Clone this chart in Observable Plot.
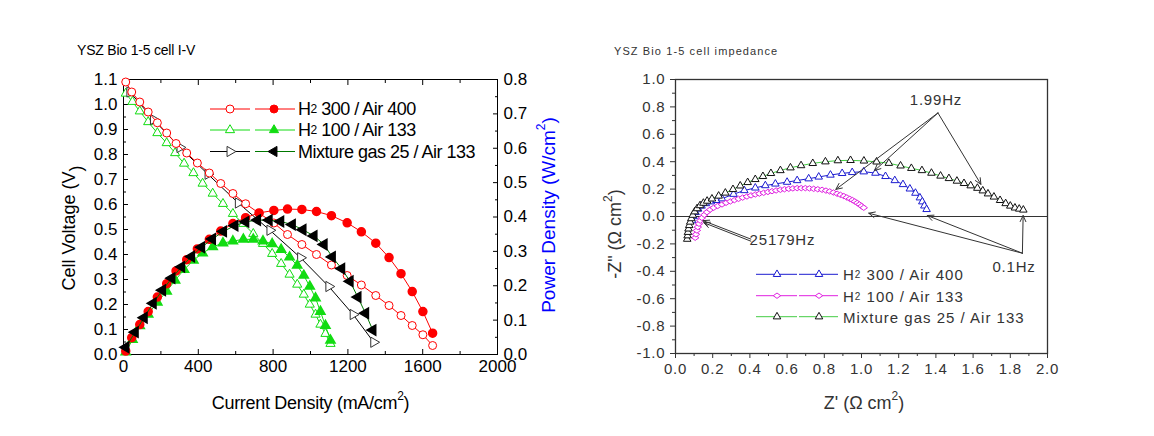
<!DOCTYPE html>
<html><head><meta charset="utf-8">
<script src="https://cdn.jsdelivr.net/npm/d3@7"></script>
<script src="https://cdn.jsdelivr.net/npm/@observablehq/plot@0.6"></script>
<style>
body{margin:0;background:#fff;}
#wrap{position:relative;width:1154px;height:436px;overflow:hidden;background:#fff;}
#wrap svg{position:absolute;top:0;}
</style></head><body><div id="wrap"></div>
<script>
// ---------- Left panel: I-V and power curves ----------
const currentH2_300 = [12,44,87,132,181,231,281,338,395,459,520,585,653,725,804,877,954,1032,1112,1196,1272,1349,1420,1484,1544,1601,1653];
const voltageH2_300 = [1.09,1.05,1.01,0.97,0.927,0.886,0.844,0.806,0.766,0.726,0.684,0.644,0.603,0.565,0.526,0.48,0.44,0.40,0.358,0.316,0.278,0.236,0.196,0.156,0.116,0.079,0.036];
const powerH2_300   = [0.010,0.049,0.087,0.125,0.167,0.206,0.243,0.276,0.307,0.335,0.359,0.381,0.398,0.412,0.419,0.423,0.422,0.416,0.404,0.383,0.357,0.324,0.282,0.235,0.183,0.125,0.062];

const currentH2_100 = [12,48,87,132,181,231,276,324,374,423,477,532,585,641,694,746,795,843,888,929,964,996,1027,1053,1080,1107];
const voltageH2_100 = [1.044,1.011,0.973,0.93,0.886,0.846,0.806,0.764,0.726,0.684,0.644,0.603,0.563,0.523,0.483,0.443,0.403,0.363,0.32,0.28,0.24,0.20,0.16,0.12,0.083,0.043];
const powerH2_100   = [0.007,0.043,0.083,0.117,0.152,0.184,0.216,0.247,0.274,0.295,0.313,0.324,0.330,0.335,0.335,0.330,0.322,0.305,0.283,0.259,0.230,0.198,0.164,0.125,0.084,0.041];

const currentMixV = [34,160,302,452,614,783,947,1098,1228,1338];
const voltageMix  = [1.05,0.94,0.828,0.721,0.606,0.497,0.387,0.272,0.16,0.049];
const currentMixP = [12,62,110,158,208,258,310,363,417,475,534,595,653,716,778,840,902,959,1018,1072,1116,1166,1211,1253,1294,1333];
const powerMix    = [0.021,0.065,0.107,0.149,0.187,0.222,0.255,0.285,0.312,0.336,0.358,0.375,0.386,0.391,0.391,0.387,0.378,0.363,0.345,0.32,0.284,0.25,0.213,0.167,0.12,0.071];

const currentTicks = [0,400,800,1200,1600,2000];
const currentMinor = [200,600,1000,1400,1800];
const voltageTicks = [0,0.1,0.2,0.3,0.4,0.5,0.6,0.7,0.8,0.9,1.0,1.1];
const voltageMinor = [0.05,0.15,0.25,0.35,0.45,0.55,0.65,0.75,0.85,0.95,1.05];
const powerTicks = [0,0.1,0.2,0.3,0.4,0.5,0.6,0.7,0.8];
const powerMinor = [0.05,0.15,0.25,0.35,0.45,0.55,0.65,0.75];

// ---------- Right panel: impedance ----------
const zReH2_300 = [0.09,0.097,0.108,0.122,0.14,0.163,0.19,0.22,0.25,0.312,0.37,0.429,0.483,0.537,0.6,0.654,0.716,0.77,0.833,0.896,0.95,1.012,1.075,1.129,1.179,1.223,1.26,1.29,1.314,1.327,1.338,1.35];
const zImH2_300 = [-0.03,0.0,0.03,0.055,0.077,0.095,0.108,0.118,0.13,0.163,0.19,0.209,0.226,0.238,0.251,0.263,0.276,0.289,0.303,0.315,0.322,0.327,0.317,0.293,0.263,0.234,0.202,0.171,0.137,0.108,0.078,0.052];

const zReH2_100 = [0.106,0.11,0.115,0.12,0.126,0.133,0.142,0.155,0.169,0.186,0.205,0.227,0.25,0.272,0.295,0.317,0.339,0.361,0.384,0.406,0.429,0.451,0.474,0.497,0.519,0.541,0.564,0.586,0.609,0.631,0.654,0.676,0.698,0.72,0.743,0.765,0.788,0.809,0.829,0.849,0.869,0.887,0.905,0.921,0.937,0.951,0.964,0.977,0.989,1.0,1.012];
const zImH2_100 = [-0.155,-0.13,-0.102,-0.077,-0.053,-0.03,-0.01,0.012,0.032,0.05,0.064,0.077,0.088,0.1,0.11,0.12,0.129,0.138,0.146,0.154,0.161,0.167,0.173,0.179,0.185,0.19,0.195,0.199,0.202,0.205,0.207,0.207,0.207,0.205,0.202,0.199,0.195,0.189,0.183,0.175,0.166,0.158,0.149,0.139,0.129,0.12,0.11,0.099,0.088,0.076,0.064];

const zReMix = [0.063,0.065,0.067,0.07,0.074,0.079,0.085,0.093,0.103,0.116,0.132,0.15,0.17,0.196,0.232,0.268,0.309,0.348,0.388,0.429,0.47,0.513,0.564,0.618,0.675,0.738,0.806,0.873,0.941,1.013,1.081,1.147,1.21,1.268,1.325,1.376,1.425,1.47,1.513,1.551,1.587,1.623,1.652,1.68,1.712,1.745,1.775,1.8,1.825,1.848,1.87];
const zImMix = [-0.165,-0.14,-0.115,-0.09,-0.065,-0.04,-0.015,0.01,0.035,0.058,0.08,0.098,0.113,0.129,0.15,0.172,0.198,0.224,0.249,0.271,0.293,0.315,0.336,0.356,0.372,0.388,0.4,0.408,0.41,0.406,0.399,0.389,0.37,0.352,0.336,0.317,0.296,0.278,0.259,0.242,0.225,0.207,0.188,0.166,0.143,0.118,0.095,0.077,0.063,0.055,0.048];

const zReTicks = [0,0.2,0.4,0.6,0.8,1.0,1.2,1.4,1.6,1.8,2.0];
const zReMinor = [0.1,0.3,0.5,0.7,0.9,1.1,1.3,1.5,1.7,1.9];
const zImTicks = [-1.0,-0.8,-0.6,-0.4,-0.2,0,0.2,0.4,0.6,0.8,1.0];
const zImMinor = [-0.9,-0.7,-0.5,-0.3,-0.1,0.1,0.3,0.5,0.7,0.9];

// frequency annotations (arrow from label point to data point)
const freqArrows = [
  {x1:1.411,y1:0.756,x2:0.862,y2:0.198},
  {x1:1.411,y1:0.756,x2:1.07,y2:0.335},
  {x1:1.411,y1:0.756,x2:1.642,y2:0.235},
  {x1:1.865,y1:-0.268,x2:1.039,y2:0.024},
  {x1:1.865,y1:-0.268,x2:1.354,y2:0.007},
  {x1:1.865,y1:-0.268,x2:1.869,y2:0.007},
  {x1:0.405,y1:-0.165,x2:0.148,y2:-0.03},
  {x1:0.405,y1:-0.18,x2:0.152,y2:-0.045}
];
const freqLabels = [
  {x:1.40,y:0.85,text:"1.99Hz"},
  {x:0.575,y:-0.17,text:"25179Hz"},
  {x:1.82,y:-0.373,text:"0.1Hz"}
];

// ---------- helpers ----------
const FONT = '"Liberation Sans", Arial, sans-serif';
const rows = (xs, ys) => xs.map((x, i) => ({x, y: ys[i]}));
const fmt1 = d => d.toFixed(1);
const blank = () => "";
const S3 = Math.sqrt(3);
const triRight = {draw(c, s){const k=Math.sqrt(s/(3*S3)); c.moveTo(2*k,0); c.lineTo(-k,-S3*k); c.lineTo(-k,S3*k); c.closePath();}};
const triLeft  = {draw(c, s){const k=Math.sqrt(s/(3*S3)); c.moveTo(-2*k,0); c.lineTo(k,-S3*k); c.lineTo(k,S3*k); c.closePath();}};
const wideDiamond = {draw(c, s){const r=Math.sqrt(s)*0.62; c.moveTo(-r,0); c.lineTo(0,-0.72*r); c.lineTo(r,0); c.lineTo(0,0.72*r); c.closePath();}};

const RED="#ff0000", GREEN="#12dc12", DKGREEN="#007800", BLUE="#1c1cd0", MAG="#e020e0", LGREEN="#44cc44";
const wrap = document.getElementById("wrap");

const leftDims = {width:600, height:436, marginTop:79, marginRight:103, marginBottom:82, marginLeft:123};
const leftStyle = {fontFamily: FONT, fontSize:"17px", color:"#000", background:"transparent", overflow:"visible"};

const pV = Plot.plot({
  ...leftDims,
  x:{domain:[0,2000]}, y:{domain:[0,1.1]},
  style: leftStyle,
  marks:[
    Plot.frame({stroke:"#000"}),
    Plot.axisY(voltageTicks,{anchor:"left", tickSize:-5, tickPadding:11, tickFormat:fmt1, label:null}),
    Plot.axisY(voltageMinor,{anchor:"left", tickSize:-3, tickFormat:blank, label:null}),
    Plot.axisX(currentTicks,{anchor:"bottom", tickSize:-5, tickPadding:10, tickFormat:d=>String(d), label:null}),
    Plot.axisX(currentMinor,{anchor:"bottom", tickSize:-3, tickFormat:blank, label:null}),
    Plot.axisX(currentTicks,{anchor:"top", tickSize:-5, tickFormat:blank, label:null}),
    Plot.axisX(currentMinor,{anchor:"top", tickSize:-3, tickFormat:blank, label:null}),
    Plot.line(rows(currentH2_100, voltageH2_100),{x:"x",y:"y",stroke:GREEN,strokeWidth:1}),
    Plot.dot(rows(currentH2_100, voltageH2_100),{x:"x",y:"y",symbol:"triangle",r:3.4,stroke:GREEN,fill:"#fff",strokeWidth:1}),
    Plot.line(rows(currentMixV, voltageMix),{x:"x",y:"y",stroke:"#000",strokeWidth:1}),
    Plot.dot(rows(currentMixV, voltageMix),{x:"x",y:"y",symbol:triRight,r:3.8,stroke:"#333",fill:"#fff",strokeWidth:1}),
    Plot.line(rows(currentH2_300, voltageH2_300),{x:"x",y:"y",stroke:RED,strokeWidth:1}),
    Plot.dot(rows(currentH2_300, voltageH2_300),{x:"x",y:"y",symbol:"circle",r:4,stroke:RED,fill:"#fff",strokeWidth:1})
  ]
});

const pP = Plot.plot({
  ...leftDims,
  x:{domain:[0,2000], axis:null}, y:{domain:[0,0.8]},
  style: leftStyle,
  marks:[
    Plot.axisY(powerTicks,{anchor:"right", tickSize:-5, tickPadding:11, tickFormat:fmt1, label:null}),
    Plot.axisY(powerMinor,{anchor:"right", tickSize:-3, tickFormat:blank, label:null}),
    Plot.line(rows(currentH2_100, powerH2_100),{x:"x",y:"y",stroke:GREEN,strokeWidth:1}),
    Plot.dot(rows(currentH2_100, powerH2_100),{x:"x",y:"y",symbol:"triangle",r:3.4,fill:GREEN,stroke:GREEN}),
    Plot.line(rows(currentH2_300, powerH2_300),{x:"x",y:"y",stroke:RED,strokeWidth:1}),
    Plot.dot(rows(currentH2_300, powerH2_300),{x:"x",y:"y",symbol:"circle",r:4,fill:RED,stroke:RED}),
    Plot.line(rows(currentMixP, powerMix),{x:"x",y:"y",stroke:DKGREEN,strokeWidth:1}),
    Plot.dot(rows(currentMixP, powerMix),{x:"x",y:"y",symbol:triLeft,r:3.8,fill:"#000",stroke:"#000"})
  ]
});

const pZ = Plot.plot({
  width:577, height:436, marginTop:79, marginRight:107, marginBottom:83, marginLeft:98,
  x:{domain:[0,2]}, y:{domain:[-1,1]},
  style:{fontFamily:FONT, fontSize:"15px", color:"#333", background:"transparent", overflow:"visible"},
  marks:[
    Plot.ruleY([0],{stroke:"#333",strokeWidth:1}),
    Plot.frame({stroke:"#333",strokeWidth:1.3}),
    Plot.axisY(zImTicks,{anchor:"left", tickSize:5, tickPadding:5, tickFormat:fmt1, label:null}),
    Plot.axisY(zImMinor,{anchor:"left", tickSize:3, tickFormat:blank, label:null}),
    Plot.axisX(zReTicks,{anchor:"bottom", tickSize:5, tickPadding:5, tickFormat:fmt1, label:null}),
    Plot.axisX(zReMinor,{anchor:"bottom", tickSize:3, tickFormat:blank, label:null}),
    Plot.line(rows(zReH2_300, zImH2_300),{x:"x",y:"y",stroke:BLUE,strokeWidth:1}),
    Plot.dot(rows(zReH2_300, zImH2_300),{x:"x",y:"y",symbol:"triangle",r:2.8,stroke:BLUE,fill:"#fff",strokeWidth:1}),
    Plot.line(rows(zReH2_100, zImH2_100),{x:"x",y:"y",stroke:MAG,strokeWidth:1}),
    Plot.dot(rows(zReH2_100, zImH2_100),{x:"x",y:"y",symbol:wideDiamond,r:3.4,stroke:MAG,fill:"#fff",strokeWidth:1}),
    Plot.line(rows(zReMix, zImMix),{x:"x",y:"y",stroke:LGREEN,strokeWidth:1}),
    Plot.dot(rows(zReMix, zImMix),{x:"x",y:"y",symbol:"triangle",r:2.8,stroke:"#111",fill:"#fff",strokeWidth:1}),
    Plot.arrow(freqArrows,{x1:"x1",y1:"y1",x2:"x2",y2:"y2",stroke:"#333",strokeWidth:1,headLength:10,headAngle:50}),
    Plot.text(freqLabels,{x:"x",y:"y",text:"text",fill:"#333",fontSize:15})
  ]
});
pZ.querySelectorAll("text").forEach(t => t.style.letterSpacing = "0.8px");

pV.style.left = "0px"; pP.style.left = "0px"; pZ.style.left = "577px";
wrap.append(pV, pP, pZ);

// ---------- overlay: titles, axis labels, legends ----------
const ov = d3.create("svg").attr("width",1154).attr("height",436)
  .style("left","0px").style("font-family",FONT);

function txt(x, y, opts){
  const t = ov.append("text").attr("x",x).attr("y",y)
    .attr("font-size",opts.size).attr("fill",opts.fill||"#000")
    .attr("text-anchor",opts.anchor||"start")
    .style("letter-spacing",(opts.ls||0)+"px");
  if (opts.rotate) t.attr("transform",`rotate(-90,${x},${y})`);
  if (opts.center) t.attr("dominant-baseline","central");
  return t;
}
function withSup(t, pre, sup, post, supSize){
  t.append("tspan").text(pre);
  t.append("tspan").attr("dy",-7).attr("font-size",supSize).text(sup);
  t.append("tspan").attr("dy",7).text(post);
}
function withSub(t, pre, sub, post, subSize){
  t.append("tspan").text(pre);
  t.append("tspan").attr("font-size",subSize).text(sub);
  t.append("tspan").text(post);
}

txt(77,55,{size:"14px",ls:-0.2}).text("YSZ Bio 1-5 cell I-V");
txt(614,54.5,{size:"11px",ls:1.1,fill:"#333"}).text("YSZ Bio 1-5 cell impedance");

withSup(txt(69,228,{size:"18px",anchor:"middle",rotate:true,center:true}),"Cell Voltage (V","",")","12px");
withSup(txt(548,215,{size:"19px",anchor:"middle",rotate:true,center:true,fill:"#0000ff"}),"Power Density (W/cm","2",")","12px");
withSup(txt(310.5,402.7,{size:"18px",anchor:"middle",center:true,ls:-0.3}),"Current Density (mA/cm","2",")","12px");
withSup(txt(615,234,{size:"18px",anchor:"middle",rotate:true,center:true,fill:"#333"}),"-Z\" (\u03A9 cm","2",")","12px");
withSup(txt(864,402.7,{size:"18px",anchor:"middle",center:true,fill:"#333"}),"Z' (\u03A9 cm","2",")","12px");

const sym = (type, r) => d3.symbol(type, r*r*Math.PI)();
function legendRow(y, segs, label, txtOpts, textX, subSize){
  segs.forEach(s => {
    ov.append("line").attr("x1",s.x1).attr("x2",s.x2).attr("y1",y).attr("y2",y)
      .attr("stroke",s.line).attr("stroke-width",1);
    ov.append("path").attr("d",sym(s.type,s.r)).attr("transform",`translate(${s.mx},${y})`)
      .attr("fill",s.fill).attr("stroke",s.stroke).attr("stroke-width",1);
  });
  withSub(txt(textX, y, {...txtOpts, center:true}), label[0], label[1], label[2], subSize);
}
const L1 = {x1:210,x2:250,mx:230}, L2 = {x1:255,x2:295,mx:274};
const lo = {size:"18px", ls:-0.5};
legendRow(109,[{...L1,line:RED,type:d3.symbolCircle,r:4,fill:"#fff",stroke:RED},{...L2,line:RED,type:d3.symbolCircle,r:4,fill:RED,stroke:RED}],["H","2"," 300 / Air 400"],lo,298,"12px");
legendRow(130,[{...L1,line:GREEN,type:d3.symbolTriangle,r:3.4,fill:"#fff",stroke:GREEN},{...L2,line:GREEN,type:d3.symbolTriangle,r:3.4,fill:GREEN,stroke:GREEN}],["H","2"," 100 / Air 133"],lo,298,"12px");
legendRow(151.5,[{...L1,line:"#000",type:triRight,r:3.8,fill:"#fff",stroke:"#333"},{...L2,line:DKGREEN,type:triLeft,r:3.8,fill:"#000",stroke:"#000"}],["Mixture gas 25 / Air 133","",""],lo,298,"12px");

const R1 = {x1:756,x2:797,mx:777}, R2 = {x1:799,x2:838,mx:819};
const ro = {size:"15px", ls:1, fill:"#333"};
legendRow(274.3,[{...R1,line:BLUE,type:d3.symbolTriangle,r:2.8,fill:"#fff",stroke:BLUE},{...R2,line:BLUE,type:d3.symbolTriangle,r:2.8,fill:"#fff",stroke:BLUE}],["H","2"," 300 / Air 400"],ro,843,"10px");
legendRow(295.7,[{...R1,line:MAG,type:wideDiamond,r:3.4,fill:"#fff",stroke:MAG},{...R2,line:MAG,type:wideDiamond,r:3.4,fill:"#fff",stroke:MAG}],["H","2"," 100 / Air 133"],ro,843,"10px");
legendRow(316.7,[{...R1,line:LGREEN,type:d3.symbolTriangle,r:2.8,fill:"#fff",stroke:"#111"},{...R2,line:LGREEN,type:d3.symbolTriangle,r:2.8,fill:"#fff",stroke:"#111"}],["Mixture gas 25 / Air 133","",""],ro,843,"10px");

wrap.append(ov.node());
</script></body></html>
